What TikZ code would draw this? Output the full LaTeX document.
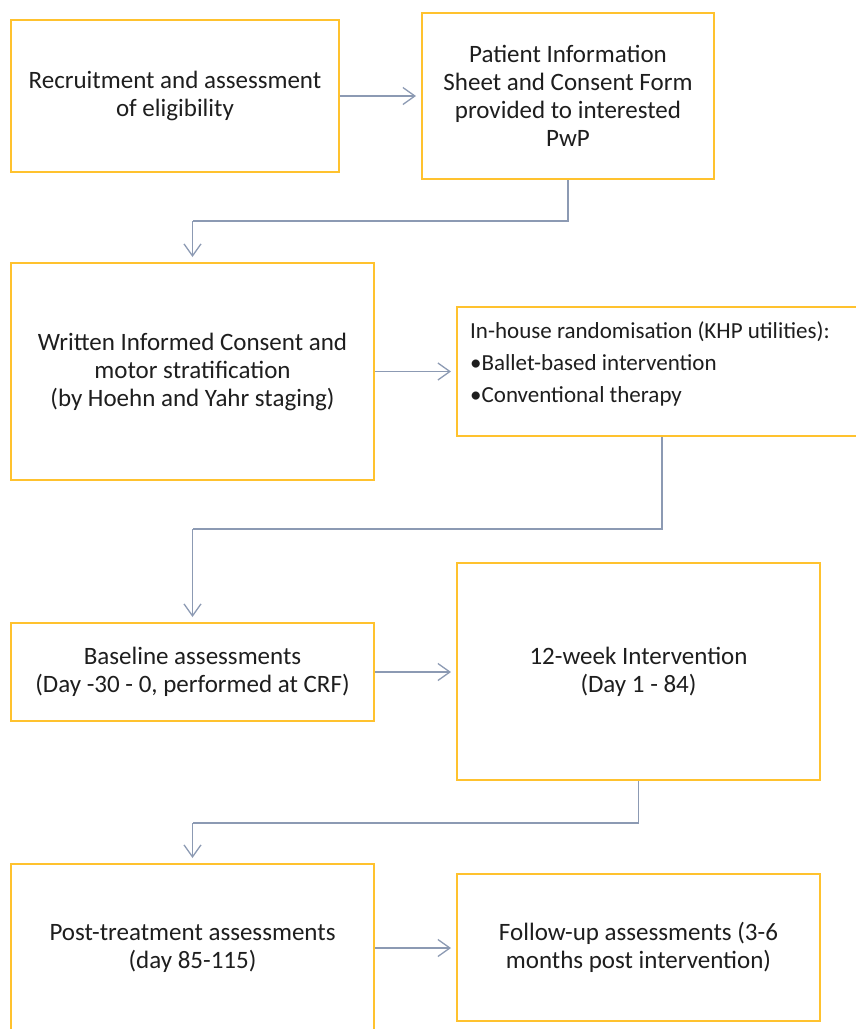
\documentclass[tikz,border=0pt]{standalone}
\usepackage{fontspec}
\setmainfont{Carlito}
\usetikzlibrary{arrows.meta}
\definecolor{boxgold}{HTML}{FFC22E}
\definecolor{arrgray}{HTML}{8C9AB3}
\definecolor{txt}{HTML}{1E1E1E}
\tikzset{
  flowbox/.style={draw=boxgold, line width=2pt, fill=white, inner sep=0pt, text=txt,
    align=center, font=\fontsize{25}{28}\selectfont},
  arr/.style={draw=arrgray, line width=1.5pt,
    -{Straight Barb[length=12pt, width=17pt, line width=1.3pt]}, shorten >=5pt},
  plainline/.style={draw=arrgray, line width=1.5pt}
}
\begin{document}
\begin{tikzpicture}[x=1pt, y=-1pt]
\useasboundingbox (0,0) rectangle (856,1029);
\clip (0,0) rectangle (856,1029);
\node[flowbox, minimum width=328pt, minimum height=152pt] (b1) at (175,96)
  {Recruitment and assessment\\of eligibility};
\node[flowbox, minimum width=292pt, minimum height=166pt] (b2) at (568,96)
  {Patient Information\\Sheet and Consent Form\\provided to interested\\PwP};
\node[flowbox, minimum width=363pt, minimum height=217pt] (b3) at (192.5,371.5)
  {Written Informed Consent and\\motor stratification\\(by Hoehn and Yahr staging)};
\node[flowbox, minimum width=410pt, minimum height=129pt] (b4) at (662,371.5) {};
\node[text=txt, align=left, anchor=north west, inner sep=0pt,
  font=\fontsize{23}{32}\selectfont] (b4t) at (470,321)
  {In-house randomisation (KHP utilities):\\•Ballet-based intervention\\•Conventional therapy};
\node[flowbox, minimum width=363pt, minimum height=98pt] (b5) at (192.5,672)
  {Baseline assessments\\(Day -30 - 0, performed at CRF)};
\node[flowbox, minimum width=363pt, minimum height=217pt] (b6) at (638.5,671.5)
  {12-week Intervention\\(Day 1 - 84)};
\node[flowbox, minimum width=363pt, minimum height=168pt] (b7) at (192.5,948)
  {Post-treatment assessments\\(day 85-115)};
\node[flowbox, minimum width=363pt, minimum height=147pt] (b8) at (638.5,947.5)
  {Follow-up assessments (3-6\\months post intervention)};
\coordinate (c1) at (192.5,221);
\coordinate (c2) at (192.5,529);
\coordinate (c3) at (192.5,823);
\draw[arr] (b1.east) -- (b2.west |- b1.east);
\draw[plainline] (b2.south) |- (c1);
\draw[arr] (c1) -- (b3.north);
\draw[arr] (b3.east) -- (b4.west);
\draw[plainline] (b4.south) |- (c2);
\draw[arr] (c2) -- (b5.north);
\draw[arr] (b5.east) -- (b6.west |- b5.east);
\draw[plainline] (b6.south) |- (c3);
\draw[arr] (c3) -- (b7.north);
\draw[arr] (b7.east) -- (b8.west |- b7.east);
\end{tikzpicture}
\end{document}
